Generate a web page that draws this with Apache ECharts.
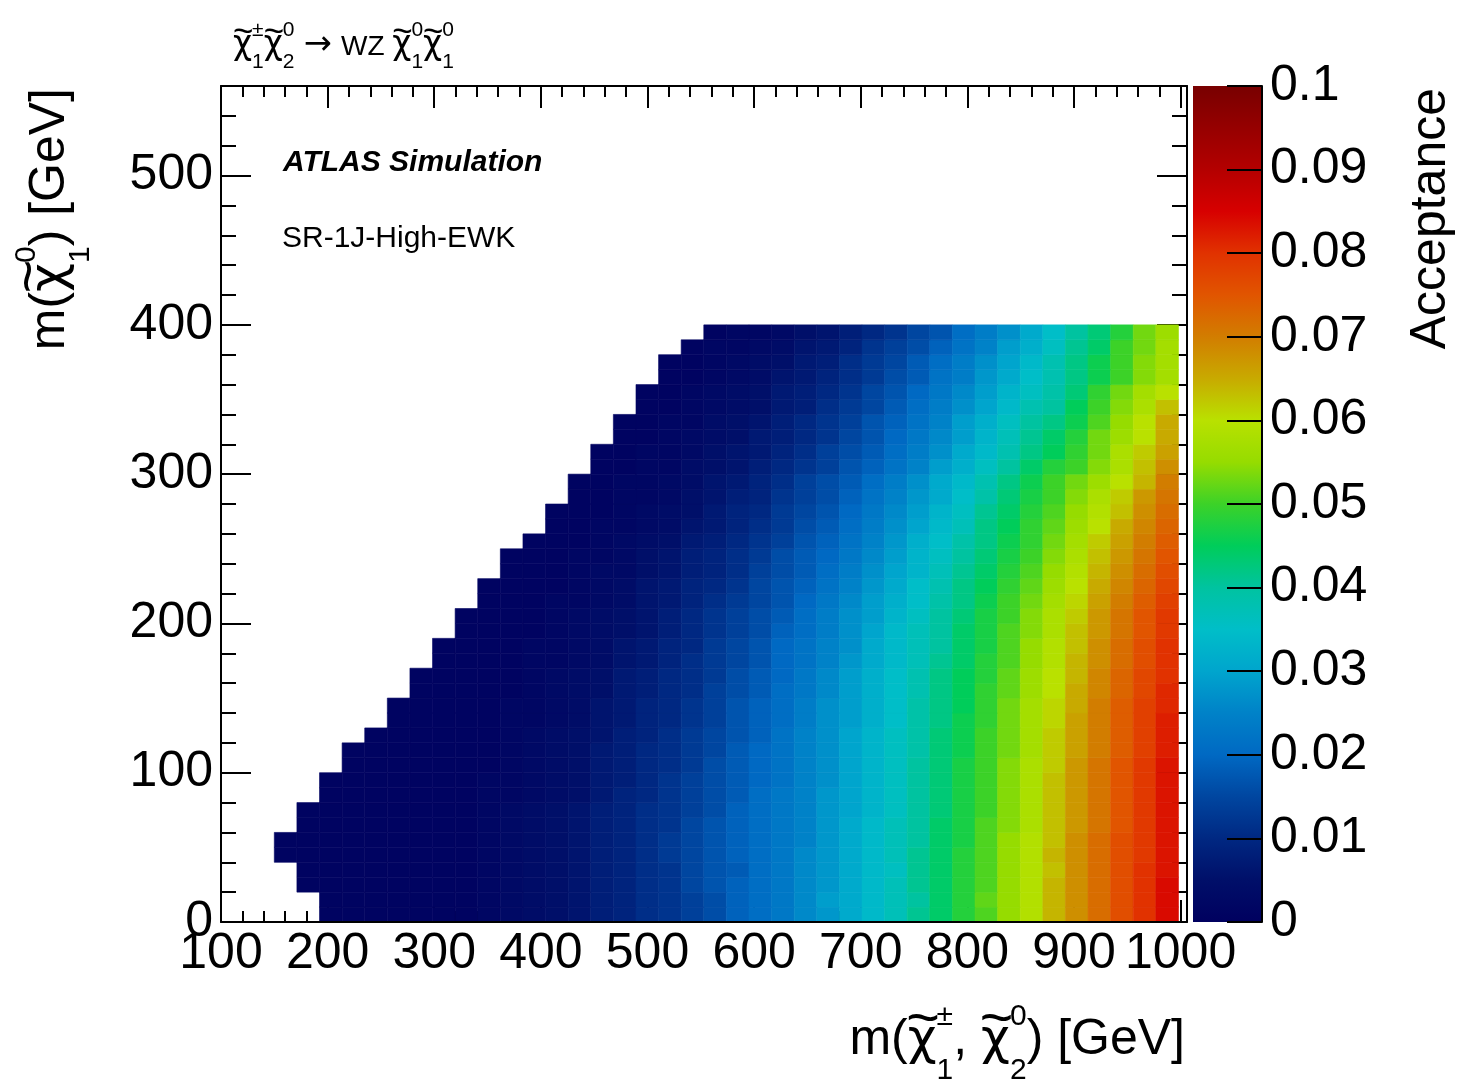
<!DOCTYPE html>
<html>
<head>
<meta charset="utf-8">
<script src="https://cdn.jsdelivr.net/npm/echarts@6.0.0/dist/echarts.min.js"></script>
<style>
  html, body { margin: 0; padding: 0; background: #fff; }
  #chart { width: 1460px; height: 1079px; }
</style>
</head>
<body>
<div id="chart"></div>
<script>
// ---------------- DATA ----------------
const _ = null;
// x bins: m(chargino, neutralino2) [GeV]; 40 bins starting at X_FIRST_BIN, width X_BIN_WIDTH
const X_FIRST_BIN = 150;
const X_BIN_WIDTH = 21.2;
// y bins: m(neutralino1) [GeV]; 40 bins of width Y_BIN_WIDTH starting at 0
const Y_BIN_WIDTH = 10;
// Acceptance in units of 1e-3, one row per y bin (row 0 = 0-10 GeV ... row 39 = 390-400 GeV)
const acceptancePermille = [
  [_,_,1,1,1,1,1,1,1,2,3,4,5,6,8,9,11,12,14,16,19,21,23,26,28,31,34,37,41,44,48,51,55,59,64,68,72,76,80,84],
  [_,_,1,1,1,1,1,1,1,2,3,4,5,6,8,9,11,12,14,16,19,21,23,26,29,31,34,37,40,44,48,52,55,59,64,68,72,76,80,84],
  [_,1,1,1,1,1,1,1,1,2,3,4,5,6,8,9,11,12,15,17,19,21,23,26,28,31,34,37,41,44,48,51,55,59,64,68,72,76,80,84],
  [_,1,1,1,1,1,1,1,1,2,3,4,5,6,8,9,11,12,15,17,18,21,23,26,28,31,34,36,41,44,48,51,55,59,63,68,72,76,80,83],
  [1,1,1,1,1,1,1,1,1,2,3,4,5,6,8,9,11,13,15,17,19,21,23,26,28,31,34,37,41,44,48,51,55,59,64,68,72,76,79,83],
  [1,1,1,1,1,1,1,1,1,2,3,4,5,6,8,9,11,13,15,17,19,21,23,25,28,31,34,37,40,44,47,51,55,59,63,68,72,76,79,83],
  [_,1,1,1,1,1,1,1,1,2,3,4,5,6,8,9,11,12,15,17,19,21,23,25,28,31,34,37,40,44,47,51,54,58,63,67,71,75,79,83],
  [_,1,1,1,1,1,1,1,1,2,3,4,5,6,8,9,11,12,14,16,19,21,23,25,28,30,33,36,40,43,47,50,54,58,63,67,71,75,79,83],
  [_,_,1,1,1,1,1,1,1,2,2,3,4,5,7,9,10,12,14,16,18,21,23,25,28,30,33,36,40,43,47,50,54,58,63,67,71,75,79,83],
  [_,_,1,1,1,1,1,1,1,2,2,3,4,5,7,8,10,12,14,16,18,20,22,25,27,30,33,36,40,43,47,50,54,58,63,67,71,75,79,83],
  [_,_,_,1,1,1,1,1,1,1,2,3,4,5,7,8,10,11,13,16,18,20,22,25,27,30,33,36,40,43,47,50,54,58,62,67,71,75,79,83],
  [_,_,_,1,1,1,1,1,1,1,2,3,4,5,7,8,10,11,13,15,18,20,22,25,27,30,33,36,39,43,46,50,53,57,62,66,70,74,78,82],
  [_,_,_,_,1,1,1,1,1,1,2,3,4,5,6,8,9,11,13,15,17,19,22,25,27,30,33,36,39,43,46,50,53,57,62,66,70,74,78,82],
  [_,_,_,_,_,1,1,1,1,1,2,2,3,4,6,7,9,10,12,14,17,19,21,24,27,29,32,35,39,42,46,49,53,57,61,66,70,74,78,82],
  [_,_,_,_,_,1,1,1,1,1,2,2,3,4,6,7,9,10,12,14,17,19,21,24,27,29,32,35,39,42,45,49,53,57,61,65,70,74,78,81],
  [_,_,_,_,_,_,1,1,1,1,1,2,3,4,5,7,8,10,11,14,16,18,21,23,26,29,32,35,38,42,45,49,52,56,60,65,69,73,77,81],
  [_,_,_,_,_,_,1,1,1,1,1,2,3,4,5,7,8,10,11,13,16,18,20,23,26,29,32,35,38,42,45,48,52,56,60,64,69,73,77,80],
  [_,_,_,_,_,_,_,1,1,1,1,2,2,3,4,6,7,9,11,13,15,17,20,22,25,28,31,34,37,41,44,48,51,55,59,64,68,72,76,80],
  [_,_,_,_,_,_,_,1,1,1,1,2,2,3,4,6,7,9,10,13,15,17,20,22,25,27,31,34,37,40,44,47,51,55,59,63,68,72,76,80],
  [_,_,_,_,_,_,_,_,1,1,1,1,2,3,4,5,6,8,10,12,14,16,19,21,24,27,30,34,37,40,44,47,51,54,58,63,67,71,75,79],
  [_,_,_,_,_,_,_,_,1,1,1,1,2,3,4,5,6,8,10,12,14,16,18,21,24,27,29,33,36,40,43,47,50,54,58,62,67,71,75,79],
  [_,_,_,_,_,_,_,_,_,1,1,1,2,2,3,4,6,7,9,11,13,15,17,20,23,26,29,32,35,39,42,46,50,53,57,61,66,70,74,78],
  [_,_,_,_,_,_,_,_,_,1,1,1,1,2,3,4,6,7,9,10,12,15,17,19,22,25,28,31,35,38,42,45,49,52,56,60,65,69,73,77],
  [_,_,_,_,_,_,_,_,_,_,1,1,1,2,3,3,5,6,8,9,11,14,16,18,21,24,27,30,33,37,41,44,48,51,55,59,64,68,72,76],
  [_,_,_,_,_,_,_,_,_,_,1,1,1,2,2,3,5,6,8,9,11,13,16,18,20,23,26,29,33,36,40,43,47,50,54,58,63,67,71,75],
  [_,_,_,_,_,_,_,_,_,_,_,1,1,1,2,3,4,5,7,8,10,12,14,17,19,22,25,28,32,35,39,42,46,49,53,57,62,66,70,74],
  [_,_,_,_,_,_,_,_,_,_,_,_,1,1,2,2,3,4,6,7,9,11,13,16,18,21,24,27,30,34,37,42,45,49,52,56,60,65,69,73],
  [_,_,_,_,_,_,_,_,_,_,_,_,1,1,1,2,3,4,5,7,9,10,13,15,17,20,23,26,29,33,36,41,44,48,51,55,59,63,68,72],
  [_,_,_,_,_,_,_,_,_,_,_,_,_,1,1,2,2,3,5,6,8,9,12,14,16,19,22,25,28,31,35,39,43,47,50,54,58,62,67,71],
  [_,_,_,_,_,_,_,_,_,_,_,_,_,1,1,2,2,3,4,6,7,9,11,14,16,18,21,24,27,31,34,38,42,46,50,53,56,60,64,70],
  [_,_,_,_,_,_,_,_,_,_,_,_,_,_,1,1,2,2,4,5,6,8,10,12,14,17,19,22,25,29,32,36,40,44,48,50,54,58,63,68],
  [_,_,_,_,_,_,_,_,_,_,_,_,_,_,1,1,2,2,3,5,6,7,9,11,14,16,18,21,24,27,31,34,38,42,45,49,53,58,62,66],
  [_,_,_,_,_,_,_,_,_,_,_,_,_,_,_,1,1,2,3,4,5,7,8,10,12,15,17,20,23,26,29,33,37,41,44,48,53,56,60,65],
  [_,_,_,_,_,_,_,_,_,_,_,_,_,_,_,1,1,2,2,4,5,6,8,10,12,14,17,19,22,25,29,32,36,40,42,46,51,55,60,65],
  [_,_,_,_,_,_,_,_,_,_,_,_,_,_,_,_,1,1,2,3,4,5,7,8,11,13,15,18,21,24,27,30,34,38,40,45,50,54,58,63],
  [_,_,_,_,_,_,_,_,_,_,_,_,_,_,_,_,1,1,2,3,4,5,7,8,10,12,15,17,20,23,26,29,33,36,39,43,49,53,57,60],
  [_,_,_,_,_,_,_,_,_,_,_,_,_,_,_,_,_,1,1,2,3,4,6,7,9,11,13,16,18,22,24,28,31,35,38,42,46,50,54,57],
  [_,_,_,_,_,_,_,_,_,_,_,_,_,_,_,_,_,1,1,2,3,4,5,7,8,11,13,15,18,21,24,27,30,34,38,42,46,50,54,57],
  [_,_,_,_,_,_,_,_,_,_,_,_,_,_,_,_,_,_,1,2,2,3,4,6,7,9,12,14,16,19,22,25,29,32,36,41,44,50,53,57],
  [_,_,_,_,_,_,_,_,_,_,_,_,_,_,_,_,_,_,_,1,2,2,3,5,6,8,10,12,15,17,21,24,27,31,35,40,43,48,53,56]
];
// axis ranges and ticks
const X_MIN = 100, X_MAX = 1006, X_MAJOR = 100, X_MINOR = 20;
const Y_MIN = 0, Y_MAX = 560, Y_MAJOR = 100, Y_MINOR = 20;
const Z_MIN = 0, Z_MAX = 0.1, Z_MAJOR = 0.01;
// colour palette (low -> high)
const palette = ['#00005f','#000f69','#002882','#0046a0','#0069c3','#0082c8','#00a5cd','#00bec8',
  '#00c3a0','#00cd5a','#3cd228','#96dc00','#b9e100','#c8aa00','#d27d00','#e15500','#e13200',
  '#d70000','#b40000','#960000','#780000'];

// ---------------- BUILD ----------------
const cells = [];
acceptancePermille.forEach((row, j) => {
  row.forEach((v, k) => {
    if (v !== null) cells.push([X_FIRST_BIN + k * X_BIN_WIDTH, j * Y_BIN_WIDTH, v / 1000]);
  });
});

const FONT = 'Liberation Sans';
const SYM = 'DejaVu Sans';
const MID = 0.3465; // canvas 'middle' baseline offset (fraction of font size)
const mctx = document.createElement('canvas').getContext('2d');
function tw(str, size, family, weight, style) {
  mctx.font = (style || 'normal') + ' ' + (weight || 'normal') + ' ' + size + 'px "' + (family || FONT) + '"';
  return mctx.measureText(str).width;
}
function txt(str, x, baseline, size, extra) {
  return Object.assign({
    type: 'text', x: x, y: baseline - MID * size,
    style: Object.assign({ text: str, fontSize: size, fontFamily: FONT, fill: '#000', align: 'left', verticalAlign: 'middle' },
      (extra && extra.style) || {})
  }, extra && extra.el || {});
}
function buildMath(tokens, size, o) {
  const ss = size * o.script;
  const els = [];
  let x = 0;
  tokens.forEach(t => {
    if (typeof t === 'string') {
      els.push(txt(t, x, 0, size)); x += tw(t, size);
    } else if (t.sym) {
      const fs = size * o.symSize;
      els.push(txt(t.sym, x + o.symPad * size, 0, fs, { style: { fontFamily: SYM } }));
      x += tw(t.sym, fs, SYM) + 2 * o.symPad * size;
    } else if (t.chi) {
      const fs = size * o.chiSize;
      const w = tw('\u03c7', fs, SYM);
      els.push(txt('\u03c7', x, 0, fs, { style: { fontFamily: SYM } }));
      els.push({ type: 'text', x: x + w / 2 + o.tildeDx * size, y: -o.tilde * size,
        style: { text: '~', fontSize: size * o.tildeSize, fontFamily: FONT, fill: '#000', align: 'center', verticalAlign: 'middle' } });
      x += w;
    } else {
      els.push(txt(t.sup, x, -o.sup * size, ss));
      els.push(txt(t.sub, x, o.sub * size, ss));
      x += Math.max(tw(t.sup, ss), tw(t.sub, ss));
    }
  });
  return { width: x, children: els };
}
const CHI = { chi: true };
const mathOpt = { script: 0.6, sup: 0.62, sub: 0.46, tilde: 0.74, tildeSize: 1.15, tildeDx: 0.02,
  chiSize: 1.0, symSize: 1.2, symPad: 0.05 };

const titleMath = buildMath([CHI, { sup: '\u00b1', sub: '1' }, CHI, { sup: '0', sub: '2' }, ' ', { sym: '\u2192' }, ' WZ ',
  CHI, { sup: '0', sub: '1' }, CHI, { sup: '0', sub: '1' }], 28,
  Object.assign({}, mathOpt, { script: 0.75, sup: 0.7, sub: 0.46, tilde: 0.84, chiSize: 1.18, tildeSize: 1.25 }));
const xTitleMath = buildMath(['m(', CHI, { sup: '\u00b1', sub: '1' }, ', ', CHI, { sup: '0', sub: '2' }, ') [GeV]'], 50, mathOpt);
const yTitleMath = buildMath(['m(', CHI, { sup: '0', sub: '1' }, ') [GeV]'], 50, mathOpt);

const frameLine = { show: true, onZero: false, lineStyle: { color: '#000', width: 2 } };
const noLine = { show: false, onZero: false };
const labelStyle = { fontFamily: FONT, fontSize: 50, color: '#000' };
const hundreds = v => (Math.abs(v % 100) < 1e-6 ? String(v) : '');
const ticks = len => ({ show: true, inside: true, length: len, lineStyle: { color: '#000', width: 2 } });

function xAx(position, interval, opts) {
  return Object.assign({
    type: 'value', gridIndex: 0, position: position, min: X_MIN, max: X_MAX, interval: interval,
    axisLine: noLine, axisTick: { show: false }, axisLabel: { show: false },
    splitLine: { show: false }, minorTick: { show: false }, z: 1
  }, opts);
}
function yAx(position, interval, opts) {
  return Object.assign({
    type: 'value', gridIndex: 0, position: position, min: Y_MIN, max: Y_MAX, interval: interval,
    axisLine: noLine, axisTick: { show: false }, axisLabel: { show: false },
    splitLine: { show: false }, minorTick: { show: false }, z: 1
  }, opts);
}

const option = {
  animation: false,
  backgroundColor: '#fff',
  grid: [
    { left: 221, top: 86, width: 966, height: 836, outerBoundsMode: 'none', containLabel: false },
    { left: 1193, top: 86, width: 69, height: 836, outerBoundsMode: 'none', containLabel: false }
  ],
  xAxis: [
    xAx('bottom', X_MAJOR, { axisLine: frameLine, z: 3,
      axisLabel: Object.assign({ show: true, margin: 7, formatter: hundreds }, labelStyle) }),
    xAx('bottom', X_MAJOR, { axisTick: ticks(22) }),
    xAx('bottom', X_MINOR, { axisTick: ticks(11) }),
    xAx('top', X_MAJOR, { axisLine: frameLine, z: 3 }),
    xAx('top', X_MAJOR, { axisTick: ticks(22) }),
    xAx('top', X_MINOR, { axisTick: ticks(11) }),
    { type: 'value', gridIndex: 1, show: false, min: 0, max: 1, axisLine: noLine }
  ],
  yAxis: [
    yAx('left', Y_MAJOR, { axisLine: frameLine, z: 3,
      axisLabel: Object.assign({ show: true, margin: 8, formatter: hundreds }, labelStyle) }),
    yAx('left', Y_MAJOR, { axisTick: ticks(30) }),
    yAx('left', Y_MINOR, { axisTick: ticks(15) }),
    yAx('right', Y_MAJOR, { axisLine: frameLine, z: 3 }),
    yAx('right', Y_MAJOR, { axisTick: ticks(30) }),
    yAx('right', Y_MINOR, { axisTick: ticks(15) }),
    { type: 'value', gridIndex: 1, position: 'right', min: Z_MIN, max: Z_MAX, interval: Z_MAJOR,
      axisLine: frameLine, axisTick: ticks(35), splitLine: { show: false }, z: 3,
      axisLabel: Object.assign({ show: true, margin: 8, formatter: v => String(parseFloat(v.toFixed(3))) }, labelStyle) }
  ],
  visualMap: {
    show: false, type: 'continuous', seriesIndex: 0, dimension: 2,
    min: Z_MIN, max: Z_MAX, inRange: { color: palette }
  },
  series: [{
    type: 'custom',
    xAxisIndex: 0, yAxisIndex: 0,
    dimensions: ['mC1', 'mN1', 'acceptance'],
    encode: { x: 0, y: 1 },
    data: cells,
    z: 2,
    renderItem: function (params, api) {
      const x0 = api.value(0), y0 = api.value(1);
      const p0 = api.coord([x0, y0]);
      const p1 = api.coord([x0 + X_BIN_WIDTH, y0 + Y_BIN_WIDTH]);
      const c = api.visual('color');
      return {
        type: 'rect',
        shape: { x: p0[0], y: p1[1], width: p1[0] - p0[0], height: p0[1] - p1[1] },
        style: { fill: c, stroke: c, lineWidth: 0.6 }
      };
    }
  }],
  graphic: [
    { type: 'rect', z: 1, shape: { x: 1193, y: 86, width: 69, height: 836 },
      style: { fill: new echarts.graphic.LinearGradient(0, 1, 0, 0,
        palette.map((c, i) => ({ offset: i / (palette.length - 1), color: c }))) } },
    txt('ATLAS Simulation', 283, 173, 30, { style: { fontWeight: 'bold', fontStyle: 'italic' } }),
    txt('SR-1J-High-EWK', 282, 249, 30),
    { type: 'text', x: 1449 - MID * 50, y: 88, rotation: Math.PI / 2,
      style: { text: 'Acceptance', fontSize: 50, fontFamily: FONT, fill: '#000', align: 'right', verticalAlign: 'middle' } },
    { type: 'group', x: 233, y: 57, children: titleMath.children },
    { type: 'group', x: 1185 - xTitleMath.width, y: 1058, children: xTitleMath.children },
    { type: 'group', x: 68, y: 88 + yTitleMath.width, rotation: Math.PI / 2, children: yTitleMath.children }
  ]
};

const chart = echarts.init(document.getElementById('chart'), null, { renderer: 'canvas' });
chart.setOption(option);
</script>
</body>
</html>
